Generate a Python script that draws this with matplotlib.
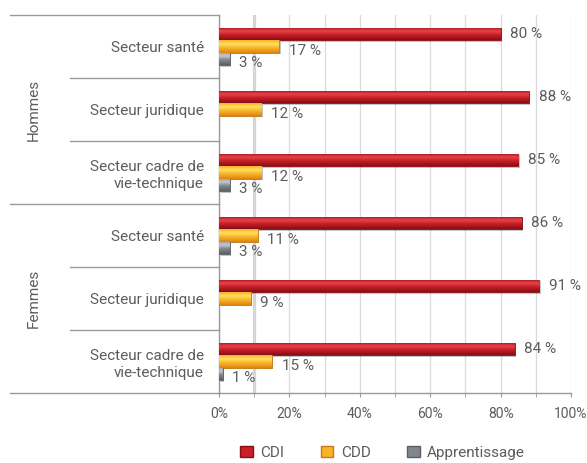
import numpy as np
import matplotlib
matplotlib.use("Agg")
import matplotlib.pyplot as plt
import matplotlib.patches as mpatches
import matplotlib.patheffects as pe
from matplotlib.colors import to_rgb

plt.rcParams['font.family'] = ['Roboto', 'DejaVu Sans']

groups = ["Hommes", "Femmes"]
sectors = ["Secteur santé", "Secteur juridique", "Secteur cadre de\nvie-technique"]
categories = sectors + sectors
series = ["CDI", "CDD", "Apprentissage"]
cdi = [80, 88, 85, 86, 91, 84]
cdd = [17, 12, 12, 11, 9, 15]
apprentissage = [3, None, 3, 3, None, 1]

# top / highlight / middle / bottom shades used for the bar gradients
shades = {
    "CDI": ["#9e1219", "#e8434a", "#c81f28", "#860f14"],
    "CDD": ["#f3b12a", "#ffe15e", "#f8b428", "#e0840f"],
    "Apprentissage": ["#9aa0a6", "#c4c8cc", "#80868c", "#5c6166"],
}
edges = {"CDI": "#8a1016", "CDD": "#c7781a", "Apprentissage": "#5a5f64"}
txt = "#5c5c5c"

fig = plt.figure(figsize=(5.87, 4.63), dpi=100)
ax = fig.add_axes([0.3731, 0.1512, 0.5997, 0.8164])

y = np.arange(len(categories))
h = 0.2
offsets = [-0.2, 0.0, 0.2]


def gradient(cols, n=40):
    stops = np.array([0.0, 0.3, 0.6, 1.0])
    rgb = np.array([to_rgb(c) for c in cols])
    t = np.linspace(0, 1, n)
    arr = np.stack([np.interp(t, stops, rgb[:, k]) for k in range(3)], axis=1)
    return arr.reshape(n, 1, 3)


for name, vals, off in zip(series, [cdi, cdd, apprentissage], offsets):
    img = gradient(shades[name])
    for yi, v in zip(y, vals):
        if v is None:
            continue
        bar = ax.barh(yi + off, v, height=h, color=shades[name][2],
                      edgecolor=edges[name], linewidth=0.6, zorder=3)[0]
        bar.set_path_effects([pe.SimplePatchShadow(offset=(1.2, -1.2), alpha=0.35, shadow_rgbFace="#555555"),
                              pe.Normal()])
        im = ax.imshow(img, extent=(0, v, yi + off - h / 2, yi + off + h / 2),
                       origin='lower', aspect='auto', interpolation='bilinear', zorder=4)
        im.set_clip_path(bar)
        dy = 0 if name == "CDI" else -3
        ax.annotate(f"{v} %", (v, yi + off), xytext=(7, dy), textcoords='offset points',
                    va='center', ha='left', fontsize=11, color=txt, zorder=5)

ax.set_xlim(0, 100)
ax.set_ylim(5.5, -0.5)

# grid
ax.set_xticks(np.arange(0, 101, 20))
ax.set_xticks(np.arange(10, 100, 20), minor=True)
ax.set_xticklabels([f"{t}%" for t in range(0, 101, 20)])
ax.grid(axis='x', which='both', color='#dadada', linewidth=0.9, zorder=0)
ax.axvline(10, color='#d2d2d2', linewidth=2.3, zorder=0.5)
ax.tick_params(axis='x', which='both', length=3, color='#999999', labelsize=10,
               labelcolor=txt, pad=7)

ax.set_yticks(y)
ax.set_yticklabels(categories, fontsize=11, color=txt, linespacing=1.25)
ax.tick_params(axis='y', length=0, pad=11)

for side in ['top', 'right']:
    ax.spines[side].set_visible(False)
for side in ['left', 'bottom']:
    ax.spines[side].set_color('#999999')
    ax.spines[side].set_linewidth(1.0)

# separators of the two-level category axis
trans = ax.get_yaxis_transform()
for yy in [0.5, 1.5, 3.5, 4.5]:
    ax.plot([-0.423, 0], [yy, yy], color='#999999', lw=1.0, transform=trans, clip_on=False)
for yy in [-0.5, 2.5, 5.5]:
    ax.plot([-0.594, 0], [yy, yy], color='#999999', lw=1.0, transform=trans, clip_on=False)
for g, yc in zip(groups, [1, 4]):
    ax.text(-0.526, yc, g, rotation=90, ha='center', va='center', fontsize=11,
            color=txt, transform=trans)

handles = [mpatches.Patch(facecolor=shades[s][2], edgecolor=edges[s], label=s) for s in series]
fig.legend(handles=handles, loc='center', bbox_to_anchor=(0.652, 0.022), ncol=3,
           frameon=False, fontsize=11, labelcolor=txt, handlelength=0.8, handleheight=0.8,
           columnspacing=2.4, handletextpad=0.5)

fig.savefig("out.png", dpi=100)
